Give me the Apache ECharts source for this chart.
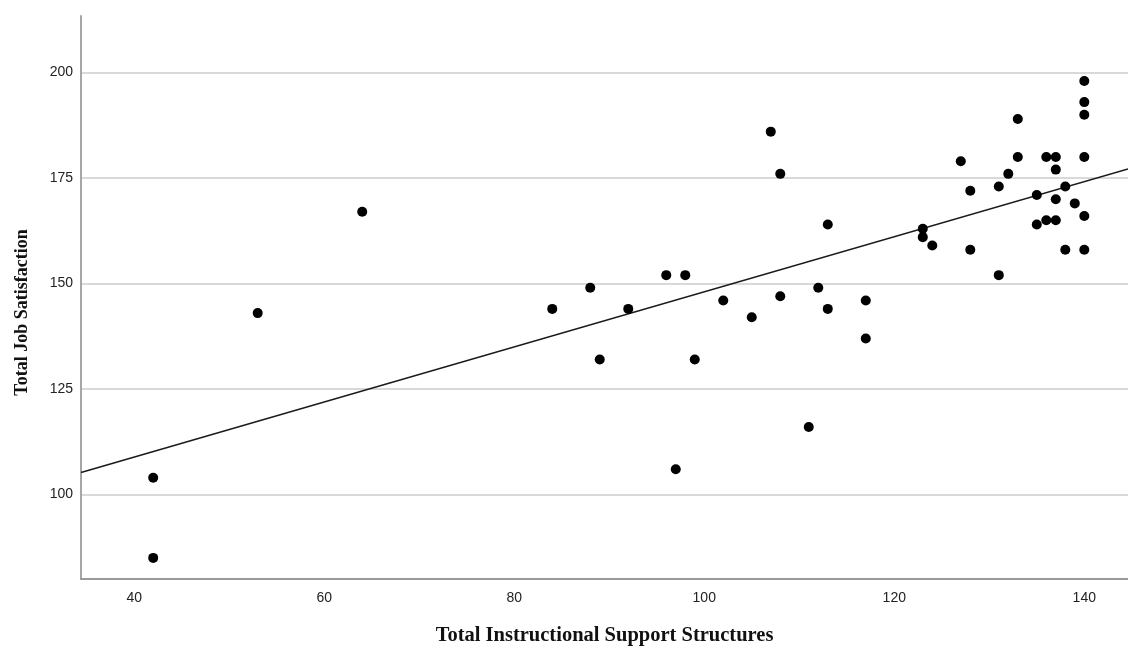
<!DOCTYPE html>
<html>
<head>
<meta charset="utf-8">
<script src="https://cdn.jsdelivr.net/npm/echarts@6/dist/echarts.min.js"></script>
<style>
html,body{margin:0;padding:0;background:#fff;}
#chart{width:1128px;height:647px;}
</style>
</head>
<body>
<div id="chart"></div>
<script>
const xTitle = 'Total Instructional Support Structures';
const yTitle = 'Total Job Satisfaction';
const xTicks = [40, 60, 80, 100, 120, 140];
const yTicks = [100, 125, 150, 175, 200];
const xValues = [42, 42, 53, 64, 84, 88, 89, 92, 96, 98, 97, 99, 102, 105, 107, 108, 108, 111, 112, 113, 113, 117, 117,
  123, 123, 124, 127, 128, 128, 131, 131, 132, 133, 133, 135, 135, 136, 136, 137, 137, 137, 137, 138, 138, 139,
  140, 140, 140, 140, 140, 140];
const yValues = [104, 85, 143, 167, 144, 149, 132, 144, 152, 152, 106, 132, 146, 142, 186, 176, 147, 116, 149, 164, 144, 146, 137,
  163, 161, 159, 179, 172, 158, 173, 152, 176, 189, 180, 171, 164, 180, 165, 180, 177, 170, 165, 173, 158, 169,
  198, 193, 190, 180, 166, 158];

const xMin = 34.4, xMax = 144.6, yMin = 80, yMax = 213.4;

// least-squares fit line from the data
const n = xValues.length;
let sx = 0, sy = 0;
for (let i = 0; i < n; i++) { sx += xValues[i]; sy += yValues[i]; }
const mx = sx / n, my = sy / n;
let sxx = 0, sxy = 0;
for (let i = 0; i < n; i++) { sxx += (xValues[i] - mx) ** 2; sxy += (xValues[i] - mx) * (yValues[i] - my); }
const slope = sxy / sxx, intercept = my - slope * mx;
const fitLine = [[xMin, intercept + slope * xMin], [xMax, intercept + slope * xMax]];

const points = xValues.map((x, i) => [x, yValues[i]]);

const chart = echarts.init(document.getElementById('chart'), null, {renderer: 'canvas'});
chart.setOption({
  animation: false,
  backgroundColor: '#ffffff',
  grid: {left: 81, right: 0, top: 16, bottom: 68, containLabel: false, outerBoundsMode: 'none'},
  xAxis: {
    type: 'value', min: xMin, max: xMax,
    name: xTitle, nameLocation: 'middle', nameGap: 46,
    nameTextStyle: {fontFamily: 'Liberation Serif', fontWeight: 'bold', fontSize: 20.5, color: '#111'},
    axisLine: {show: true, onZero: false, lineStyle: {color: '#9a9a9a', width: 2}},
    axisTick: {show: false, customValues: xTicks},
    axisLabel: {customValues: xTicks, margin: 12, fontFamily: 'Liberation Sans', fontSize: 14, color: '#222'},
    splitLine: {show: false}
  },
  yAxis: {
    type: 'value', min: yMin, max: yMax,
    name: yTitle, nameLocation: 'middle', nameGap: 50, nameRotate: 90,
    nameTextStyle: {fontFamily: 'Liberation Serif', fontWeight: 'bold', fontSize: 18, color: '#111', padding: [0, 30, 0, 0]},
    axisLine: {show: true, onZero: false, lineStyle: {color: '#a6a6a6', width: 2}},
    axisTick: {show: false, customValues: yTicks},
    axisLabel: {customValues: yTicks, margin: 8, fontFamily: 'Liberation Sans', fontSize: 14, color: '#222'},
    splitLine: {show: true, lineStyle: {color: '#d9d9d9', width: 2}}
  },
  series: [
    {
      type: 'line', data: fitLine, symbol: 'none', silent: true,
      lineStyle: {color: '#1a1a1a', width: 1.5}, z: 2
    },
    {
      type: 'scatter', data: points, symbol: 'circle', symbolSize: 10,
      itemStyle: {color: '#000', opacity: 1, borderWidth: 0}, z: 3
    }
  ]
});
</script>
</body>
</html>
